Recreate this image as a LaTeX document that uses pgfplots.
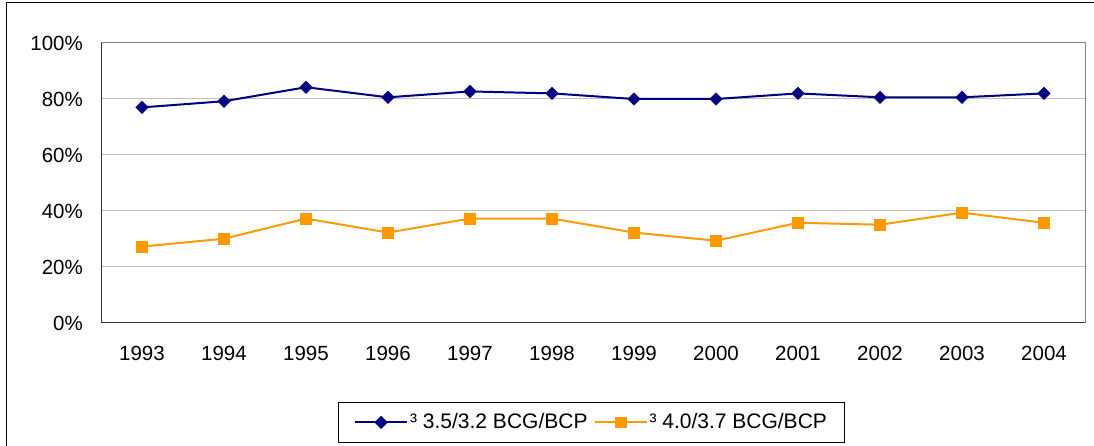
\documentclass[border=0pt]{standalone}
\usepackage{fontspec}
\setmainfont{Liberation Sans}
\usepackage{pgfplots}
\pgfplotsset{compat=1.18}
\definecolor{navyc}{RGB}{0,0,128}
\definecolor{orangec}{RGB}{255,153,0}
\definecolor{gridc}{RGB}{192,192,192}
\definecolor{framec}{RGB}{128,128,128}
\begin{document}
\fontsize{20.5}{24}\selectfont
\begin{tikzpicture}
\useasboundingbox (0,0) rectangle (1094pt,446pt);
\draw[black, line width=1pt] (6pt,0pt) -- (6pt,443pt) -- (1094pt,443pt);
\begin{axis}[
  at={(101pt,123pt)}, anchor=south west,
  width=984pt, height=280pt, scale only axis,
  xmin=-0.5, xmax=11.5, ymin=0, ymax=100,
  xtick={0,1,2,3,4,5,6,7,8,9,10,11},
  xticklabels={1993,1994,1995,1996,1997,1998,1999,2000,2001,2002,2003,2004},
  ytick={0,20,40,60,80,100},
  yticklabel={\pgfmathprintnumber{\tick}\%},
  /pgf/number format/assume math mode=true,
  major tick length=0pt,
  tick style={draw=none},
  ymajorgrids, grid style={gridc, line width=1pt},
  axis line style={framec, line width=1pt},
  yticklabel style={inner sep=0pt, anchor=east, xshift=-18pt},
  xticklabel style={inner sep=0pt, anchor=north, yshift=-23pt},
  legend columns=2,
  legend style={at={(0.4985,-0.355)}, anchor=center, draw=black, line width=0.8pt,
    font=\fontsize{21}{24}\selectfont, inner xsep=15.5pt, inner ysep=8.5pt,
    nodes={inner xsep=2pt, inner ysep=2pt},
    /tikz/every even column/.append style={column sep=4pt}},
  legend image code/.code={\draw[mark repeat=2,mark phase=2] plot coordinates {(0pt,0pt) (26pt,0pt) (52pt,0pt)};},
]
\addplot[navyc, line width=2pt, mark=square*, mark size=4.4pt, mark options={rotate=45, fill=navyc, line width=0.5pt}]
 coordinates {(0,77.0) (1,79.2) (2,84.2) (3,80.6) (4,82.7) (5,82.0) (6,80.0) (7,80.0) (8,82.0) (9,80.6) (10,80.6) (11,82.0)};
\addlegendentry{³ 3.5/3.2 BCG/BCP}
\addplot[orangec, line width=2pt, mark=square*, mark size=5.3pt, mark options={fill=orangec, line width=0.5pt}]
 coordinates {(0,27.3) (1,30.1) (2,37.3) (3,32.3) (4,37.3) (5,37.3) (6,32.3) (7,29.4) (8,35.8) (9,35.1) (10,39.4) (11,35.8)};
\addlegendentry{³ 4.0/3.7 BCG/BCP}
\draw[black!80, line width=1.5pt] (rel axis cs:0,1) -- (rel axis cs:0,0) -- (rel axis cs:1,0);
\end{axis}
\end{tikzpicture}
\end{document}
